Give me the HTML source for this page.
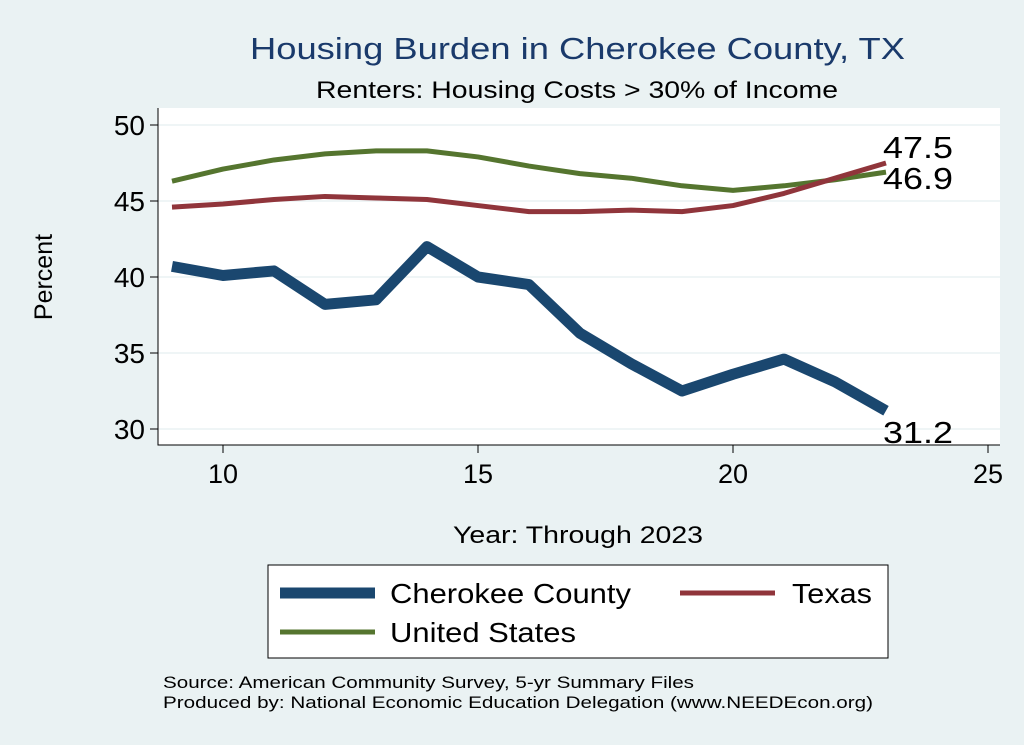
<!DOCTYPE html>
<html><head><meta charset="utf-8"><style>
body{margin:0;background:#eaf2f3;}
svg{display:block;font-family:"Liberation Sans",sans-serif;}
</style></head><body>
<svg id="c" width="1024" height="745">
<rect x="0" y="0" width="1024" height="745" fill="#eaf2f3"/>
<rect x="158" y="108" width="842" height="337" fill="#ffffff"/>
<text x="250" y="59" font-size="31" fill="#1a3a6b" textLength="655" lengthAdjust="spacingAndGlyphs">Housing Burden in Cherokee County, TX</text>
<text x="316" y="98" font-size="24" fill="#000" textLength="522" lengthAdjust="spacingAndGlyphs">Renters: Housing Costs &gt; 30% of Income</text>
<g id="grid"></g><g id="axes"></g><g id="series"></g>
<text x="52" y="277" text-anchor="middle" font-size="25" transform="rotate(-90 52 277)">Percent</text>
<text x="453" y="543" font-size="24" textLength="250" lengthAdjust="spacingAndGlyphs">Year: Through 2023</text>
<g>
<rect x="268" y="565" width="620" height="93" fill="#fff" stroke="#000" stroke-width="1"/>
<line x1="280" y1="593" x2="375" y2="593" stroke="#1a476f" stroke-width="11"/>
<text x="390" y="603" font-size="28" textLength="241" lengthAdjust="spacingAndGlyphs">Cherokee County</text>
<line x1="680" y1="593" x2="775" y2="593" stroke="#90353b" stroke-width="5"/>
<text x="792" y="603" font-size="28" textLength="80" lengthAdjust="spacingAndGlyphs">Texas</text>
<line x1="280" y1="632" x2="375" y2="632" stroke="#55752f" stroke-width="5"/>
<text x="390" y="642" font-size="28" textLength="186" lengthAdjust="spacingAndGlyphs">United States</text>
</g>
<text x="163" y="688" font-size="17" textLength="531" lengthAdjust="spacingAndGlyphs">Source: American Community Survey, 5-yr Summary Files</text>
<text x="163" y="708" font-size="17" textLength="710" lengthAdjust="spacingAndGlyphs">Produced by: National Economic Education Delegation (www.NEEDEcon.org)</text>
</svg>
<script>
const years=[9,10,11,12,13,14,15,16,17,18,19,20,21,22,23];
const cherokee=[40.7,40.1,40.4,38.2,38.5,42.0,40.0,39.5,36.3,34.3,32.5,33.6,34.6,33.1,31.2];
const texas=[44.6,44.8,45.1,45.3,45.2,45.1,44.7,44.3,44.3,44.4,44.3,44.7,45.5,46.5,47.5];
const us=[46.3,47.1,47.7,48.1,48.3,48.3,47.9,47.3,46.8,46.5,46.0,45.7,46.0,46.4,46.9];
const xTicks=[10,15,20,25];
const yTicks=[30,35,40,45,50];
const NS="http://www.w3.org/2000/svg";
const X=v=>223+(v-10)*51, Y=v=>125+(50-v)*15.2;
function mk(t,a,p){const e=document.createElementNS(NS,t);for(const k in a)e.setAttribute(k,a[k]);document.getElementById(p).appendChild(e);return e;}
yTicks.forEach(t=>{
 const g=mk('line',{x1:158,x2:1000,y1:Y(t),y2:Y(t),stroke:'#eaf2f3','stroke-width':1.5},'grid');
 
 
 const k=mk('line',{x1:150,x2:158,y1:Y(t),y2:Y(t),stroke:'#000'},'axes');
 
 
 const l=mk('text',{x:145,y:Y(t)+10,'text-anchor':'end','font-size':28},'axes');l.textContent=t;
 
 
});
xTicks.forEach(t=>{
 const k=mk('line',{x1:X(t),x2:X(t),y1:445,y2:453,stroke:'#000'},'axes');
 
 
 const l=mk('text',{x:X(t),y:483,'text-anchor':'middle','font-size':27},'axes');l.textContent=t;
 
 
});
const ax=mk('path',{d:'M158 108 V445 H1000',fill:'none',stroke:'#000','stroke-width':1},'axes');


function line(vals,color,w,name){
 const d=vals.map((v,i)=>(i?'L':'M')+X(years[i])+' '+Y(v)).join(' ');
 const p=mk('path',{d:d,fill:'none',stroke:color,'stroke-width':w,'stroke-linejoin':'round'},'series');
 
 
}
line(us,'#55752f',5,'us-line');
line(texas,'#90353b',5,'texas-line');
line(cherokee,'#1a476f',11,'cherokee-line');
const n=years.length-1, lx=X(years[n])-3;
[[texas[n],Y(texas[n])-5,'texas-end-label'],[us[n],Y(us[n])+17,'us-end-label'],[cherokee[n],Y(cherokee[n])+32,'cherokee-end-label']].forEach(a=>{
 const t=mk('text',{x:lx,y:a[1],'font-size':31,textLength:70,lengthAdjust:'spacingAndGlyphs'},'series');t.textContent=a[0].toFixed(1);
 
 
});
</script>
</body></html>
